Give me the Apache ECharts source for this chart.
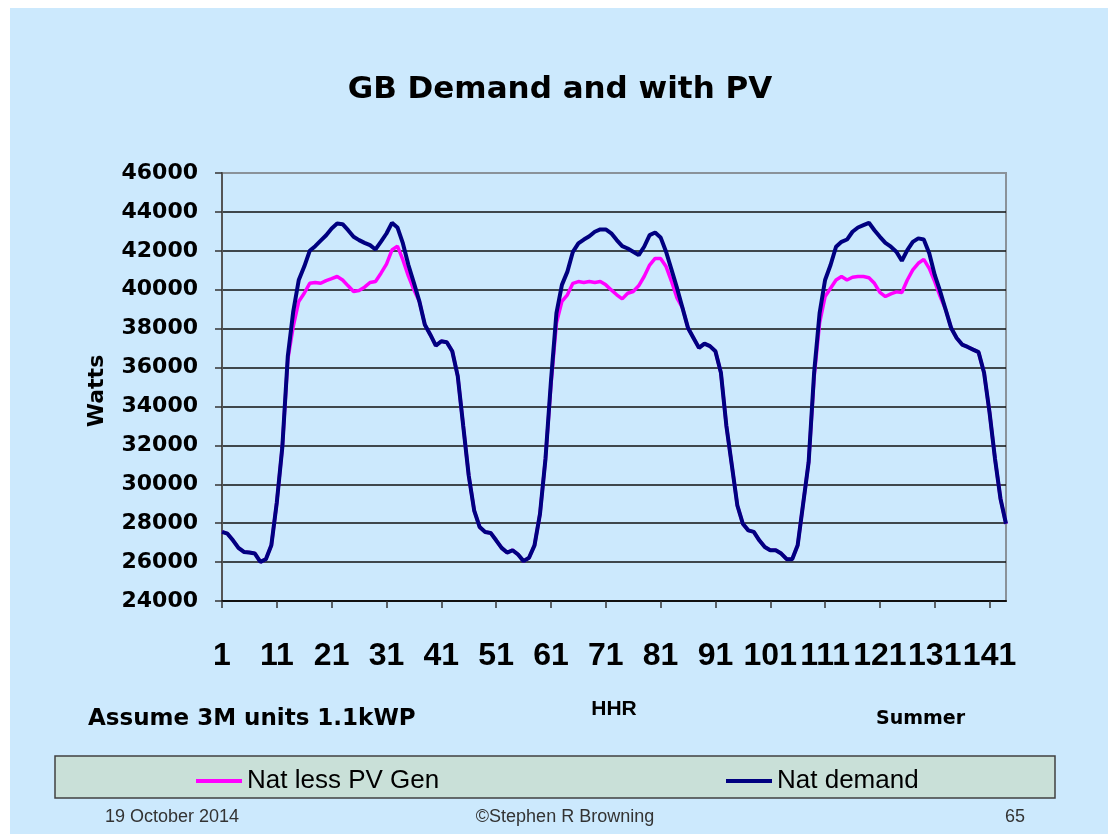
<!DOCTYPE html>
<html>
<head>
<meta charset="utf-8">
<title>GB Demand and with PV</title>
<script src="https://cdn.jsdelivr.net/npm/echarts@6/dist/echarts.min.js"></script>
<style>
  html, body { margin: 0; padding: 0; background: #fff; }
  #chart { width: 1108px; height: 834px; }
</style>
</head>
<body>
<div id="chart"></div>
<script>
// half-hour periods, 3 summer days
const hhr = Array.from({ length: 144 }, (_, i) => String(i + 1));

// national demand (navy line)
const natDemand = [
  27550, 27460, 27120, 26730, 26520, 26490, 26440, 26010, 26150, 26860,
  29080, 31900, 36580, 38890, 40500, 41190, 42000, 42240, 42520, 42800,
  43150, 43400, 43370, 43060, 42720, 42550, 42410, 42290, 42070, 42470,
  42890, 43440, 43200, 42380, 41270, 40350, 39400, 38200, 37690, 37130,
  37350, 37300, 36840, 35560, 33000, 30450, 28650, 27800, 27550, 27500,
  27120, 26730, 26490, 26610, 26390, 26050, 26220, 26860, 28480, 31300,
  35300, 38800, 40250, 40930, 41950, 42380, 42580, 42750, 42980, 43100,
  43100, 42900, 42550, 42240, 42120, 41950, 41780, 42210, 42810, 42940,
  42690, 41950, 41020, 40080, 39060, 38030, 37520, 37010, 37230, 37100,
  36840, 35730, 33000, 30960, 28910, 27970, 27630, 27550, 27120, 26780,
  26610, 26610, 26440, 26150, 26150, 26860, 29000, 31130, 35730, 38800,
  40500, 41270, 42210, 42460, 42580, 42980, 43200, 43320, 43440, 43060,
  42720, 42410, 42210, 41950, 41490, 42040, 42460, 42640, 42580, 41870,
  40760, 39910, 38970, 38030, 37520, 37180, 37060, 36920, 36790, 35730,
  33690, 31300, 29250, 27970
];

// national demand less PV generation (magenta line)
const natLessPV = [
  27550, 27460, 27120, 26730, 26520, 26490, 26440, 26010, 26150, 26860,
  29080, 31900, 36400, 38120, 39400, 39820, 40330, 40370, 40330, 40470,
  40570, 40680, 40500, 40200, 39910, 39960, 40130, 40370, 40420, 40850,
  41320, 42040, 42240, 41530, 40700, 40000, 39400, 38200, 37690, 37130,
  37350, 37300, 36840, 35560, 33000, 30450, 28650, 27800, 27550, 27500,
  27120, 26730, 26490, 26610, 26390, 26050, 26220, 26860, 28480, 31300,
  35100, 38290, 39400, 39740, 40330, 40420, 40370, 40420, 40370, 40420,
  40250, 39990, 39740, 39530, 39820, 39910, 40200, 40680, 41270, 41610,
  41610, 41190, 40420, 39570, 39060, 38030, 37520, 37010, 37230, 37100,
  36840, 35730, 33000, 30960, 28910, 27970, 27630, 27550, 27120, 26780,
  26610, 26610, 26440, 26150, 26150, 26860, 29000, 31130, 35500, 38290,
  39650, 40080, 40500, 40680, 40500, 40640, 40680, 40680, 40620, 40330,
  39860, 39650, 39790, 39890, 39860, 40500, 41020, 41360, 41560, 41100,
  40420, 39650, 38970, 38030, 37520, 37180, 37060, 36920, 36790, 35730,
  33690, 31300, 29250, 27970
];

const chart = echarts.init(document.getElementById('chart'));
const bold = 'DejaVu Sans';
const every10 = (index) => index % 10 === 0;

const option = {
  backgroundColor: '#ffffff',
  animation: false,
  graphic: [
    // slide background
    { type: 'rect', z: -20, shape: { x: 10, y: 8, width: 1098, height: 826 }, style: { fill: '#cce9fd' } },
    // legend box
    { type: 'rect', z: -10, shape: { x: 55, y: 756, width: 1000, height: 42 },
      style: { fill: '#c9e0d8', stroke: '#404040', lineWidth: 1.5 } },
    { type: 'text', x: 560, y: 90,
      style: { text: 'GB Demand and with PV', fontFamily: bold, fontWeight: 'bold', fontSize: 31,
               fill: '#000', align: 'center', verticalAlign: 'middle' } },
    { type: 'text', x: 97, y: 391, rotation: Math.PI / 2,
      style: { text: 'Watts', fontFamily: bold, fontWeight: 'bold', fontSize: 22,
               fill: '#000', align: 'center', verticalAlign: 'middle' } },
    { type: 'text', x: 88, y: 719,
      style: { text: 'Assume 3M units 1.1kWP', fontFamily: bold, fontWeight: 'bold', fontSize: 23,
               fill: '#000', align: 'left', verticalAlign: 'middle' } },
    { type: 'text', x: 876, y: 719,
      style: { text: 'Summer', fontFamily: bold, fontWeight: 'bold', fontSize: 19,
               fill: '#000', align: 'left', verticalAlign: 'middle' } },
    { type: 'text', x: 105, y: 817,
      style: { text: '19 October 2014', fontFamily: 'Liberation Sans', fontSize: 18,
               fill: '#333', align: 'left', verticalAlign: 'middle' } },
    { type: 'text', x: 565, y: 817,
      style: { text: '©Stephen R Browning', fontFamily: 'Liberation Sans', fontSize: 18,
               fill: '#333', align: 'center', verticalAlign: 'middle' } },
    { type: 'text', x: 1015, y: 817,
      style: { text: '65', fontFamily: 'Liberation Sans', fontSize: 18,
               fill: '#333', align: 'center', verticalAlign: 'middle' } }
  ],
  legend: [
    {
      data: ['Nat less PV Gen'], left: 191, top: 763,
      icon: 'rect', itemWidth: 46, itemHeight: 4, itemGap: 0,
      textStyle: { fontFamily: 'Liberation Sans', fontSize: 26, color: '#000' }
    },
    {
      data: ['Nat demand'], left: 721, top: 763,
      icon: 'rect', itemWidth: 46, itemHeight: 4, itemGap: 0,
      textStyle: { fontFamily: 'Liberation Sans', fontSize: 26, color: '#000' }
    }
  ],
  grid: {
    left: 222, right: 102, top: 173, bottom: 233,
    show: true, borderColor: '#8a9299', borderWidth: 2, backgroundColor: 'transparent'
  },
  xAxis: {
    type: 'category',
    data: hhr,
    boundaryGap: false,
    name: 'HHR',
    nameLocation: 'middle',
    nameGap: 98,
    nameTextStyle: { fontFamily: 'Liberation Sans', fontWeight: 'bold', fontSize: 21, color: '#000' },
    axisLine: { lineStyle: { color: '#111', width: 2 } },
    axisTick: { interval: every10, length: 7, lineStyle: { color: '#333', width: 1.5 } },
    axisLabel: {
      interval: every10, margin: 39, hideOverlap: false,
      showMinLabel: true, showMaxLabel: true,
      fontFamily: 'Liberation Sans', fontWeight: 'bold', fontSize: 32, color: '#000'
    },
    splitLine: { show: false }
  },
  yAxis: {
    type: 'value',
    min: 24000, max: 46000, interval: 2000,
    axisLine: { show: true, lineStyle: { color: '#555', width: 2 } },
    axisTick: { show: true, length: 7, lineStyle: { color: '#333', width: 1.5 } },
    axisLabel: {
      margin: 24, fontFamily: bold, fontWeight: 'bold', fontSize: 22, color: '#000',
      formatter: (v) => String(v)
    },
    splitLine: { showMaxLine: false, lineStyle: { color: '#111', width: 1.5 } }
  },
  series: [
    {
      name: 'Nat less PV Gen',
      type: 'line',
      data: natLessPV,
      showSymbol: false,
      symbol: 'none',
      lineStyle: { width: 3.5, color: '#ff00ff' },
      itemStyle: { color: '#ff00ff' }
    },
    {
      name: 'Nat demand',
      type: 'line',
      data: natDemand,
      showSymbol: false,
      symbol: 'none',
      lineStyle: { width: 4, color: '#000080' },
      itemStyle: { color: '#000080' }
    }
  ]
};

chart.setOption(option);

window.addEventListener('resize', () => {
  chart.resize();
});
</script>
</body>
</html>
